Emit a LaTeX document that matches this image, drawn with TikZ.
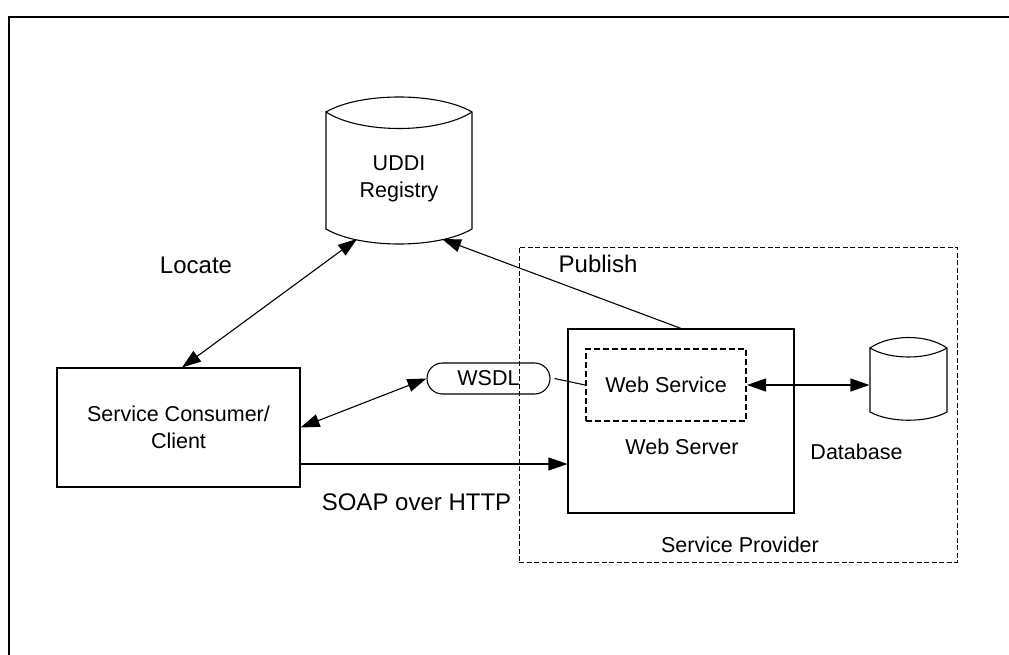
\documentclass[tikz,border=0pt]{standalone}
\usepackage{fontspec}
\setmainfont{Liberation Sans}
\usetikzlibrary{arrows.meta}

\begin{document}
\begin{tikzpicture}[x=1pt,y=-1pt,
  line width=1.1pt,
  lbl/.style={font=\fontsize{21.5}{27}\selectfont, align=center, inner sep=0pt},
  biglbl/.style={font=\fontsize{24}{28}\selectfont, inner sep=0pt},
  box/.style={draw, rectangle, inner sep=0pt},
  tip/.tip={Triangle[length=19pt,width=13pt]},
  arr/.style={-tip},
  darr/.style={tip-tip},
  thindash/.style={dash pattern=on 5pt off 2.5pt, line width=1pt},
  thickdash/.style={dash pattern=on 6pt off 3pt, line width=2pt}]

\useasboundingbox (0,0) rectangle (1009,655);

% page frame (top and left rules)
\draw[line width=1.8pt] (9,655) -- (9,17) -- (1009,17);

% UDDI registry cylinder
\draw (326,112) .. controls (360,92) and (438,92) .. (472,112)
      .. controls (438,134) and (360,134) .. (326,112)
      -- (326,229) .. controls (360,249) and (438,249) .. (472,229)
      -- (472,112);
\node[lbl] (uddi) at (399,178.5) {UDDI\\Registry};
\coordinate (uddi-l) at (357,239);
\coordinate (uddi-r) at (442,239);

% service provider area
\node[draw, thindash, minimum width=438pt, minimum height=315pt, inner sep=0pt]
  (provider) at (738,404.5) {};
\node[lbl] (providerlbl) at (740,545) {Service Provider};

% web server with the web service inside
\node[box, minimum width=226pt, minimum height=184pt] (server) at (681,421) {};
\node[lbl] (serverlbl) at (682,447) {Web Server};
\node[box, thickdash, lbl, minimum width=160pt, minimum height=72pt]
  (service) at (666,385) {Web Service};

% database cylinder
\draw (870,348) .. controls (890,334) and (927,334) .. (947,348)
      .. controls (927,360) and (890,360) .. (870,348)
      -- (870,412) .. controls (890,423) and (927,423) .. (947,412)
      -- (947,348);
\node[minimum width=77pt, minimum height=72pt, inner sep=0pt] (db) at (908.5,385) {};
\node[lbl] (dblbl) at (856.5,452) {Database};

% client and WSDL
\node[box, lbl, minimum width=243pt, minimum height=119pt] (consumer) at (178.5,427.5)
  {Service Consumer/\\Client};
\node[draw, lbl, rounded corners=15.5pt, minimum width=123pt, minimum height=31pt]
  (wsdl) at (488.5,378.5) {WSDL};

% connectors
\draw[darr] ([xshift=3.5pt]consumer.north) -- (uddi-l);
\draw[arr] (server.north) -- (uddi-r);
\draw[darr] (consumer.east) -- (wsdl.west);
\draw ([xshift=4pt]wsdl.east) -- (service.west);
\draw[darr] (service.east) -- (db.west);
\draw[arr] (consumer.east |- 0,464) -- (server.west |- 0,464);

% connector labels
\node[biglbl] (locate) at (196,265) {Locate};
\node[biglbl] (publish) at (598,264) {Publish};
\node[biglbl] (soap) at (416.5,502) {SOAP over HTTP};
\end{tikzpicture}
\end{document}
